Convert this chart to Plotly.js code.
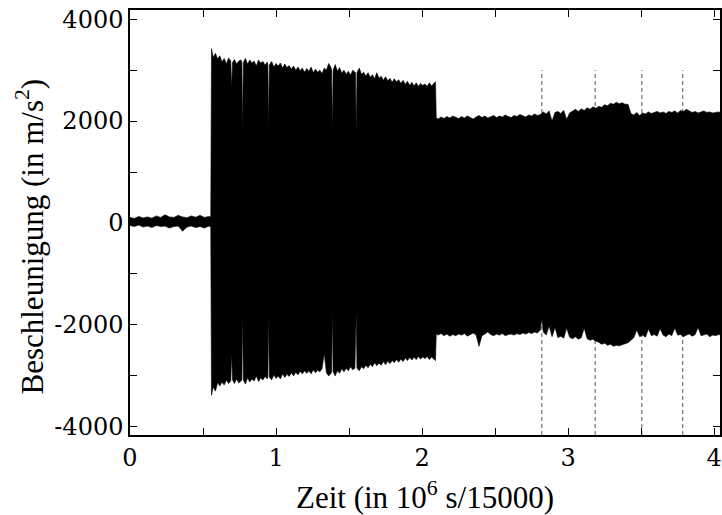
<!DOCTYPE html>
<html><head><meta charset="utf-8">
<script src="https://cdn.plot.ly/plotly-3.0.1.min.js"></script>
<style>html,body{margin:0;padding:0;background:#fff}#chart{width:722px;height:515px}</style>
</head><body><div id="chart"></div>
<script>
// upper envelope of the acceleration signal (time in 10^6 samples, value in m/s^2)
const tUp = [
 0,0.03,0.06,0.09,0.12,0.15,0.18,0.21,0.24,0.27,
 0.30,0.33,0.36,0.39,0.42,0.45,0.48,0.51,0.54,0.553,
 0.558,0.57,0.585,0.60,0.615,0.63,0.645,0.66,0.675,0.69,
 0.696,0.702,0.715,0.73,0.745,0.76,0.766,0.771,0.776,0.79,
 0.805,0.82,0.835,0.85,0.865,0.88,0.895,0.91,0.925,0.94,
 0.944,0.949,0.954,0.97,0.985,1.00,1.015,1.03,1.045,1.06,
 1.075,1.09,1.105,1.12,1.135,1.15,1.165,1.18,1.195,1.21,
 1.225,1.24,1.255,1.27,1.285,1.30,1.315,1.33,1.345,1.36,
 1.375,1.381,1.386,1.391,1.405,1.42,1.435,1.45,1.465,1.48,
 1.495,1.51,1.525,1.54,1.544,1.549,1.554,1.57,1.585,1.60,
 1.615,1.63,1.645,1.66,1.675,1.69,1.705,1.72,1.735,1.75,
 1.765,1.78,1.795,1.81,1.825,1.84,1.855,1.87,1.885,1.90,
 1.915,1.93,1.945,1.96,1.975,1.99,2.005,2.02,2.035,2.05,
 2.065,2.08,2.092,2.097,2.11,2.13,2.15,2.17,2.19,2.21,
 2.23,2.25,2.27,2.29,2.31,2.33,2.35,2.37,2.39,2.41,
 2.43,2.45,2.47,2.49,2.51,2.53,2.55,2.57,2.59,2.61,
 2.63,2.65,2.67,2.69,2.71,2.73,2.75,2.77,2.79,2.81,
 2.83,2.85,2.87,2.89,2.91,2.93,2.95,2.97,2.99,3.01,
 3.03,3.05,3.07,3.09,3.11,3.13,3.15,3.17,3.19,3.21,
 3.23,3.25,3.27,3.29,3.31,3.33,3.35,3.37,3.39,3.41,
 3.43,3.45,3.47,3.49,3.51,3.53,3.55,3.57,3.59,3.61,
 3.63,3.65,3.67,3.69,3.71,3.73,3.75,3.77,3.79,3.81,
 3.83,3.85,3.87,3.89,3.91,3.93,3.95,3.97,3.99,4.01,
 4.03,4.05
];
const upper = [
 110,90,130,100,120,95,140,110,160,120,
 110,150,120,105,140,115,150,110,130,120,
 3420,3250,3330,3220,3280,3160,3230,3120,3240,3180,
 2650,3150,3210,3120,3180,3200,3150,1820,3150,3230,
 3120,3200,3140,3180,3080,3200,3140,3170,3100,3160,
 3100,1880,3100,3170,3060,3130,3080,3140,3040,3120,
 3050,3090,3020,3080,3000,3060,2990,3040,2960,3030,
 2980,3060,2950,3020,2960,3000,2930,3040,3000,3130,
 3060,3000,1820,3000,3110,2980,3050,2940,3000,2920,
 2980,2900,3000,2960,2950,1760,2950,3040,2920,2960,
 2880,2950,2860,2910,2830,2950,2840,2880,2800,2870,
 2790,2840,2760,2830,2770,2810,2740,2800,2720,2780,
 2700,2760,2690,2750,2680,2740,2700,2730,2680,2750,
 2690,2740,2770,2060,2040,2080,2050,2090,2060,2100,
 2070,2050,2090,2060,2100,2070,2040,2080,2110,2070,
 2100,2060,2090,2110,2070,2100,2080,2120,2090,2070,
 2110,2090,2130,2100,2080,2120,2100,2140,2110,2130,
 2180,2140,2200,2000,2170,2190,2150,2210,2030,2160,
 2200,2230,2190,2240,2210,2260,2230,2280,2250,2290,
 2270,2320,2300,2350,2330,2370,2340,2360,2330,2330,
 2150,2120,2170,2110,2160,2140,2180,2150,2170,2190,
 2160,2180,2150,2190,2170,2200,2160,2210,2190,2230,
 2200,2170,2190,2160,2180,2200,2170,2180,2160,2170,
 2180,2160
];
// lower envelope
const tLo = [
 0,0.03,0.06,0.09,0.12,0.15,0.18,0.21,0.24,0.27,
 0.30,0.33,0.36,0.39,0.42,0.45,0.48,0.51,0.54,0.553,
 0.558,0.57,0.585,0.60,0.615,0.63,0.645,0.66,0.675,0.69,
 0.696,0.702,0.715,0.73,0.745,0.76,0.766,0.771,0.776,0.79,
 0.805,0.82,0.835,0.85,0.865,0.88,0.895,0.91,0.925,0.94,
 0.944,0.949,0.954,0.97,0.985,1.00,1.015,1.03,1.045,1.06,
 1.075,1.09,1.105,1.12,1.135,1.15,1.165,1.18,1.195,1.21,
 1.225,1.24,1.255,1.27,1.285,1.30,1.315,1.33,1.345,1.36,
 1.375,1.381,1.386,1.391,1.405,1.42,1.435,1.45,1.465,1.48,
 1.495,1.51,1.525,1.54,1.544,1.549,1.554,1.57,1.585,1.60,
 1.615,1.63,1.645,1.66,1.675,1.69,1.705,1.72,1.735,1.75,
 1.765,1.78,1.795,1.81,1.825,1.84,1.855,1.87,1.885,1.90,
 1.915,1.93,1.945,1.96,1.975,1.99,2.005,2.02,2.035,2.05,
 2.065,2.08,2.092,2.097,2.11,2.13,2.15,2.17,2.19,2.21,
 2.23,2.25,2.27,2.29,2.31,2.33,2.35,2.37,2.39,2.41,
 2.43,2.45,2.47,2.49,2.51,2.53,2.55,2.57,2.59,2.61,
 2.63,2.65,2.67,2.69,2.71,2.73,2.75,2.77,2.79,2.81,
 2.82,2.83,2.85,2.87,2.89,2.91,2.93,2.95,2.97,2.99,
 3.01,3.03,3.05,3.07,3.09,3.11,3.13,3.15,3.17,3.19,
 3.21,3.23,3.25,3.27,3.29,3.31,3.33,3.35,3.37,3.39,
 3.41,3.43,3.45,3.47,3.49,3.51,3.53,3.55,3.57,3.59,
 3.61,3.63,3.65,3.67,3.69,3.71,3.73,3.75,3.77,3.79,
 3.81,3.83,3.85,3.87,3.89,3.91,3.93,3.95,3.97,3.99,
 4.01,4.03,4.05
];
const lower = [
 -50,-70,-40,-80,-60,-90,-50,-70,-60,-100,
 -70,-60,-160,-80,-60,-90,-70,-100,-60,-80,
 -3380,-3220,-3300,-3130,-3200,-3120,-3180,-3080,-3150,-3100,
 -2560,-3080,-3150,-3060,-3140,-3100,-3080,-1750,-3080,-3160,
 -3040,-3120,-3060,-3100,-3000,-3110,-3040,-3080,-3010,-3060,
 -3020,-1800,-3020,-3080,-2980,-3050,-3000,-3060,-2960,-3030,
 -2970,-3010,-2940,-3000,-2930,-2980,-2910,-2960,-2900,-2950,
 -2900,-2960,-2880,-2940,-2890,-2920,-2860,-2560,-2940,-3000,
 -2960,-2920,-1700,-2920,-3000,-2900,-2950,-2860,-2920,-2850,
 -2900,-2820,-2880,-2850,-2850,-1750,-2850,-2900,-2820,-2860,
 -2790,-2840,-2770,-2820,-2740,-2800,-2750,-2790,-2720,-2780,
 -2710,-2760,-2700,-2740,-2680,-2730,-2670,-2720,-2650,-2700,
 -2640,-2690,-2630,-2680,-2620,-2670,-2630,-2660,-2620,-2680,
 -2630,-2670,-2700,-2180,-2200,-2170,-2210,-2180,-2220,-2190,
 -2210,-2180,-2200,-2170,-2220,-2190,-2160,-2200,-2420,-2210,
 -2180,-2140,-2190,-2210,-2180,-2200,-2170,-2210,-2190,-2180,
 -2200,-2170,-2190,-2160,-2180,-2150,-2170,-2140,-2160,-2100,
 -1870,-2140,-2200,-2020,-2230,-2050,-2250,-2220,-2260,-2060,
 -2240,-2270,-2230,-2280,-2250,-2060,-2270,-2300,-2280,-2320,
 -2340,-2380,-2360,-2400,-2380,-2420,-2400,-2410,-2390,-2370,
 -2350,-2300,-2250,-2100,-2230,-2200,-2240,-2080,-2210,-2190,
 -2220,-2070,-2200,-2230,-2180,-2210,-2060,-2200,-2190,-2230,
 -2200,-2180,-2220,-2190,-2050,-2210,-2200,-2180,-2230,-2200,
 -2210,-2190,-2200
];
// dashed marker lines
const markerX = [2.82, 3.185, 3.505, 3.785];
const markerTop = 3000;
// axes
const xRange = [0, 4.04];
const yRange = [-4160, 4180];
const xTickVals = [0, 1, 2, 3, 4];
const xTickText = ['0', '1', '2', '3', '4'];
const xMinorStep = 0.5;
const yTickVals = [-4000, -2000, 0, 2000, 4000];
const yTickText = ['-4000', '-2000', '0', '2000', '4000'];
const yMinorStep = 1000;
const xTitle = 'Zeit (in 10<sup>6</sup> s/15000)';
const yTitle = 'Beschleunigung (in m/s<sup>2</sup>)';

var mx = [], my = [];
markerX.forEach(function(v){ mx.push(v, v, null); my.push(yRange[0], markerTop, null); });

var polyX = tUp.concat(tLo.slice().reverse());
var polyY = upper.concat(lower.slice().reverse());

var traces = [
  {x: mx, y: my, mode: 'lines', type: 'scatter', hoverinfo: 'skip',
   line: {color: '#555', width: 1, dash: '4px,3px'}},
  {x: polyX, y: polyY, mode: 'lines', type: 'scatter', fill: 'toself',
   fillcolor: '#000', line: {color: '#000', width: 0.6}}
];

function axisCommon(step) {
  return {
    showgrid: false, zeroline: false, showline: true, linecolor: '#000', linewidth: 1.5,
    mirror: 'ticks', ticks: 'inside', ticklen: 7, tickwidth: 1, tickcolor: '#000',
    tickmode: 'array', tickfont: {family: 'DejaVu Serif', size: 24, color: '#000'},
    minor: {tickmode: 'linear', tick0: 0, dtick: step, ticks: 'inside', ticklen: 7,
            tickwidth: 1, tickcolor: '#000', showgrid: false}
  };
}

var titleFont = {family: 'Liberation Serif', size: 31, color: '#000'};

var layout = {
  width: 722, height: 515,
  margin: {l: 130, r: 2, t: 10, b: 80},
  paper_bgcolor: '#fff', plot_bgcolor: '#fff',
  showlegend: false,
  font: {family: 'DejaVu Serif', color: '#000', size: 24},
  xaxis: Object.assign(axisCommon(xMinorStep), {
    range: xRange, tickvals: xTickVals, ticktext: xTickText
  }),
  yaxis: Object.assign(axisCommon(yMinorStep), {
    range: yRange, tickvals: yTickVals, ticktext: yTickText
  }),
  annotations: [
    {xref: 'paper', yref: 'paper', x: 0.5, y: 0, xanchor: 'center', yanchor: 'middle',
     yshift: -60, text: xTitle, showarrow: false, font: titleFont},
    {xref: 'paper', yref: 'paper', x: 0, y: 0.5, xanchor: 'center', yanchor: 'middle',
     xshift: -100, yshift: -14, textangle: -90, text: yTitle, showarrow: false, font: titleFont}
  ]
};

Plotly.newPlot('chart', traces, layout, {displayModeBar: false});
</script>
</body></html>
